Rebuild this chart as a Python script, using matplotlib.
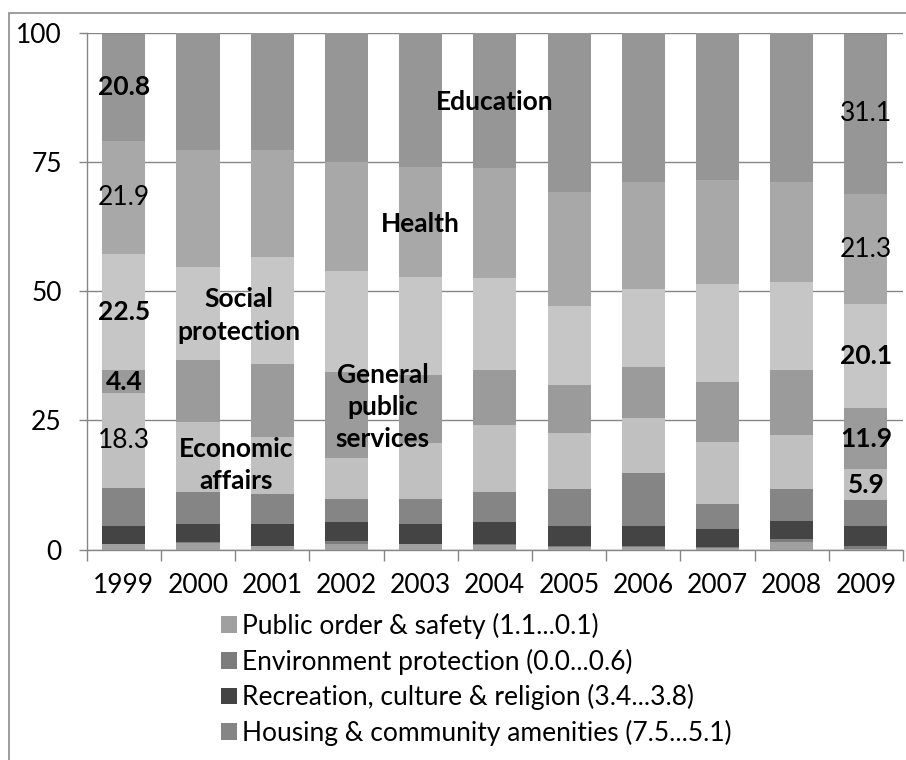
import matplotlib
matplotlib.use("Agg")
import matplotlib.pyplot as plt
from matplotlib.patches import Rectangle, Patch
import numpy as np

plt.rcParams['font.family'] = ['Lato', 'DejaVu Sans']

# Shares of government expenditure by function, per cent
years = ["1999", "2000", "2001", "2002", "2003", "2004",
         "2005", "2006", "2007", "2008", "2009"]
public_order = [1.1, 1.3, 0.6, 1.1, 1.0, 0.9, 0.5, 0.4, 0.2, 1.4, 0.1]
environment = [0.0, 0.1, 0.1, 0.6, 0.1, 0.2, 0.2, 0.3, 0.2, 0.6, 0.6]
recreation = [3.4, 3.5, 4.2, 3.6, 3.8, 4.2, 3.9, 3.9, 3.6, 3.6, 3.8]
housing = [7.5, 6.2, 5.8, 4.5, 4.9, 5.8, 7.1, 10.3, 4.8, 6.1, 5.1]
economic = [18.3, 13.6, 11.1, 7.9, 10.8, 13.0, 10.8, 10.5, 12.0, 10.5, 5.9]
general_public = [4.4, 12.0, 14.2, 16.7, 13.2, 10.6, 9.3, 10.0, 11.7, 12.6, 11.9]
social = [22.5, 17.9, 20.6, 19.6, 18.9, 17.9, 15.3, 15.0, 18.9, 16.9, 20.1]
health = [21.9, 22.8, 20.7, 21.0, 21.4, 21.2, 22.2, 20.8, 20.1, 19.5, 21.3]
education = [20.8, 22.6, 22.7, 25.0, 25.9, 26.2, 30.7, 28.8, 28.5, 28.8, 31.1]

legend_labels = [
    "Public order & safety (1.1...0.1)",
    "Environment protection (0.0...0.6)",
    "Recreation, culture & religion (3.4...3.8)",
    "Housing & community amenities (7.5...5.1)",
]

series = [public_order, environment, recreation, housing, economic,
          general_public, social, health, education]
colors = ["#a0a0a0", "#7c7c7c", "#444444", "#858585", "#c0c0c0",
          "#9b9b9b", "#c6c6c6", "#a8a8a8", "#969696"]

FS = 19
GRID = "#868686"

fig = plt.figure(figsize=(9.06, 7.6), dpi=100)
ax = fig.add_axes([86.7 / 906, 1 - 549.5 / 760, (903 - 86.7) / 906, (549.5 - 33) / 760])

x = np.arange(len(years))
bottom = np.zeros(len(years))
tops = []
for vals, col in zip(series, colors):
    v = np.array(vals)
    ax.bar(x, v, width=0.58, bottom=bottom, color=col, linewidth=0, zorder=3)
    tops.append((bottom.copy(), v))
    bottom = bottom + v

# value labels on the first and last year
bold_first = {4: False, 5: True, 6: True, 7: False, 8: True}
bold_last = {4: True, 5: True, 6: True, 7: False, 8: False}
for idx, bold_map in ((0, bold_first), (len(years) - 1, bold_last)):
    for s, bold in bold_map.items():
        b, v = tops[s]
        ax.text(x[idx], b[idx] + v[idx] / 2, f"{v[idx]:.1f}", ha="center", va="center",
                fontsize=FS, fontweight="bold" if bold else "normal", zorder=5)

# function names written across the bars
names = [
    ("Education", 5.0, 86.6),
    ("Health", 4.0, 63.0),
    ("Social\nprotection", 1.55, 45.3),
    ("General\npublic\nservices", 3.49, 27.6),
    ("Economic\naffairs", 1.51, 16.4),
]
for txt, xi, yi in names:
    ax.text(xi, yi, txt, ha="center", va="center", fontsize=FS, fontweight="bold",
            linespacing=1.42, zorder=5)

ax.set_xlim(-0.5, len(years) - 0.5)
ax.set_ylim(0, 100)
ax.set_yticks([0, 25, 50, 75, 100])
ax.yaxis.grid(True, color=GRID, linewidth=1.0, zorder=0)
ax.set_axisbelow(True)

ax.set_xticks(x)
ax.set_xticklabels(years)
ax.set_xticks(np.arange(-0.5, len(years)), minor=True)
ax.tick_params(axis="x", which="major", length=0, pad=17, labelsize=FS)
ax.tick_params(axis="x", which="minor", length=8, width=1.0, color=GRID, direction="out")
ax.tick_params(axis="y", length=6, width=1.0, color=GRID, pad=12, labelsize=FS)

for side in ("top", "right"):
    ax.spines[side].set_visible(False)
for side in ("left", "bottom"):
    ax.spines[side].set_color(GRID)
    ax.spines[side].set_linewidth(1.0)

handles = [Patch(facecolor=c, edgecolor="none") for c in colors[:4]]
fig.legend(handles, legend_labels, loc="upper left",
           bbox_to_anchor=(221 / 906, 1 - 613 / 760), frameon=False,
           fontsize=FS, handlelength=0.6, handleheight=0.6, handletextpad=0.2,
           labelspacing=0.36, borderpad=0, borderaxespad=0)

fig.add_artist(Rectangle((9 / 906, -0.1), 1.2, 1 - 13 / 760 + 0.1,
                         transform=fig.transFigure, fill=False,
                         edgecolor="#8c8c8c", linewidth=1.2, clip_on=False))

fig.savefig("out.png", dpi=100)
